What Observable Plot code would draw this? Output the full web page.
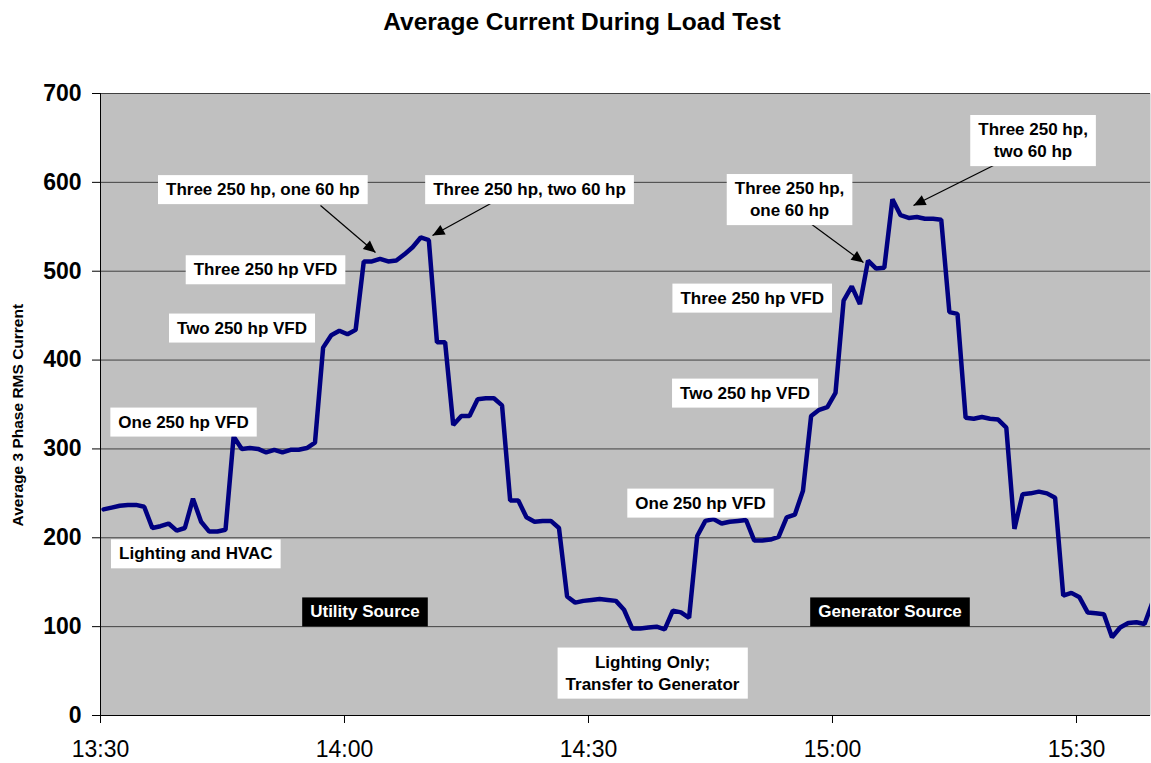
<!DOCTYPE html>
<html><head><meta charset="utf-8">
<script src="https://cdn.jsdelivr.net/npm/d3@7"></script>
<script src="https://cdn.jsdelivr.net/npm/@observablehq/plot@0.6"></script>
<style>
html,body{margin:0;padding:0;background:#fff;}
#title{width:1151px;height:44px;padding-top:8px;line-height:36px;text-align:center;font:bold 24.5px "Liberation Sans",Arial,sans-serif;padding-left:13px;box-sizing:border-box;color:#000;}
#chart svg{display:block;}
</style></head><body>
<div id="title">Average Current During Load Test</div>
<div id="chart"></div>
<script>
// ---- data ----
const sampleStartMin = 0.37;   // first sample, minutes after 13:30
const sampleStepMin = 1;       // one sample per minute
const currentValues = [
  232,234,236,237,237,235,211,213,216,208,
  211,244,218,207,207,209,314,300,301,300,
  296,299,296,299,299,301,307,414,428,433,
  429,434,511,511,514,511,512,519,527,538,
  535,420,420,327,337,337,356,357,357,349,
  242,242,223,218,219,219,211,134,127,129,
  130,131,130,129,119,98,98,99,100,97,
  118,116,110,202,219,221,216,218,219,220,
  197,197,198,201,223,226,253,337,344,347,
  363,467,483,463,512,503,504,581,563,560,
  561,559,559,558,454,452,335,334,336,334,
  333,324,210,249,250,252,250,245,135,138,
  133,116,115,114,88,99,104,105,103,128
];
const xEndMin = 129.1;
const xTickMin = [0, 30, 60, 90, 120];
const yTicks = [0,100,200,300,400,500,600,700];
const gridValues = [100,200,300,400,500,600,700];

const whiteLabelTexts = ["Lighting and HVAC","One 250 hp VFD","Two 250 hp VFD","Three 250 hp VFD",
  "Three 250 hp, one 60 hp","Three 250 hp, two 60 hp","Lighting Only;\nTransfer to Generator",
  "One 250 hp VFD","Two 250 hp VFD","Three 250 hp VFD","Three 250 hp,\none 60 hp","Three 250 hp,\ntwo 60 hp"];
const whiteLabelMin = [11.72,10.21,17.4,20.29,19.96,52.75,67.87,73.77,79.25,80.13,84.72,114.66];
const whiteLabelVal = [183.7,332,437.8,503.4,593.6,593.6,49.5,240.8,364.6,471.5,582.4,648.8];

const blackLabelTexts = ["Utility Source","Generator Source"];
const blackLabelMin = [32.52,97.07];
const blackLabelVal = [116.5,116.5];

const arrowFromMin = [27.05,48.2,87.3,111.27];
const arrowFromVal = [573.9,577.3,553.7,625.7];
const arrowToMin = [33.81,40.82,93.81,99.96];
const arrowToVal = [521.0,540.2,509.8,573.9];

const yLabel = "Average 3 Phase RMS Current";

// ---- build ----
const T0 = Date.UTC(2000,0,1,13,30);
const tm = m => new Date(T0 + m*60000);
const series = currentValues.map((v,i)=>({t: tm(sampleStartMin + i*sampleStepMin), v}));
const whiteLabels = whiteLabelTexts.map((s,i)=>({t: tm(whiteLabelMin[i]), v: whiteLabelVal[i], s}));
const blackLabels = blackLabelTexts.map((s,i)=>({t: tm(blackLabelMin[i]), v: blackLabelVal[i], s}));
const arrows = arrowFromMin.map((m,i)=>({t1: tm(m), v1: arrowFromVal[i], t2: tm(arrowToMin[i]), v2: arrowToVal[i]}));

const font = '"Liberation Sans", Arial, sans-serif';
const svg = Plot.plot({
  width: 1151, height: 719,
  marginTop: 49, marginBottom: 48, marginLeft: 100, marginRight: 1,
  style: {fontFamily: font, fontSize: "23px", background: "#fff", color: "#000", overflow: "visible"},
  x: {type: "utc", domain: [tm(0), tm(xEndMin)], ticks: xTickMin.map(tm),
      tickFormat: d3.utcFormat("%H:%M"), tickSize: 8, tickPadding: 17, label: null},
  y: {domain: [0,700], ticks: yTicks, tickSize: 8, tickPadding: 11, label: null},
  marks: [
    Plot.frame({fill: "#C0C0C0", stroke: "none"}),
    Plot.ruleY(gridValues, {stroke: "#404040", strokeWidth: 1}),
    Plot.ruleY([0], {stroke: "#000", strokeWidth: 1}),
    Plot.ruleX([tm(0)], {stroke: "#000", strokeWidth: 1}),
    Plot.line(series, {x: "t", y: "v", stroke: "#000080", strokeWidth: 4.5, strokeLinejoin: "miter", clip: true}),
    Plot.link(arrows, {x1: "t1", y1: "v1", x2: "t2", y2: "v2", stroke: "#000", strokeWidth: 1.2, markerEnd: "arrow"}),
    Plot.text(whiteLabels, {x: "t", y: "v", text: "s", fontSize: 17, fontWeight: "bold", fill: "#000", lineHeight: 1.3}),
    Plot.text(blackLabels, {x: "t", y: "v", text: "s", fontSize: 17, fontWeight: "bold", fill: "#fff"}),
    Plot.text([yLabel], {x: () => tm(0), y: () => 338, text: d => d, rotate: -90, dx: -82, fontSize: 15.5, fontWeight: "bold", fill: "#000"})
  ]
});
document.getElementById("chart").append(svg);

// axis styling
d3.select(svg).selectAll('[aria-label^="y-axis"]').attr("font-weight", "bold").attr("font-size", 23);
d3.select(svg).selectAll('[aria-label^="x-axis"]').attr("font-weight", "normal").attr("font-size", 23);
d3.select(svg).selectAll('[aria-label^="y-axis"] text, [aria-label^="x-axis"] text').attr("fill", "#000");
d3.select(svg).selectAll('[aria-label^="y-axis"] path, [aria-label^="x-axis"] path, [aria-label^="y-axis"] line, [aria-label^="x-axis"] line').attr("stroke", "#000");

// label boxes
const textGroups = svg.querySelectorAll('g[aria-label="text"]');
function addBoxes(g, fill) {
  g.querySelectorAll("text").forEach(t => {
    const b = t.getBBox();
    const r = document.createElementNS("http://www.w3.org/2000/svg", "rect");
    r.setAttribute("x", b.x - 8);
    r.setAttribute("y", b.y - 5);
    r.setAttribute("width", b.width + 16);
    r.setAttribute("height", b.height + 10);
    r.setAttribute("fill", fill);
    r.setAttribute("stroke", "none");
    const tr = t.getAttribute("transform");
    if (tr) r.setAttribute("transform", tr);
    t.parentNode.insertBefore(r, t);
  });
}
if (textGroups[0]) addBoxes(textGroups[0], "#fff");
if (textGroups[1]) addBoxes(textGroups[1], "#000");

// filled arrowheads
svg.querySelectorAll("marker").forEach(m => {
  m.setAttribute("viewBox", "-13 -7 14 14");
  m.setAttribute("markerWidth", 14);
  m.setAttribute("markerHeight", 14);
  m.setAttribute("markerUnits", "userSpaceOnUse");
  m.setAttribute("orient", "auto");
  m.setAttribute("refX", 0);
  m.setAttribute("refY", 0);
  while (m.firstChild) m.removeChild(m.firstChild);
  const p = document.createElementNS("http://www.w3.org/2000/svg", "path");
  p.setAttribute("d", "M-12,-5.5L0,0L-12,5.5Z");
  p.setAttribute("fill", "#000");
  p.setAttribute("stroke", "none");
  m.appendChild(p);
});
</script>
</body></html>
